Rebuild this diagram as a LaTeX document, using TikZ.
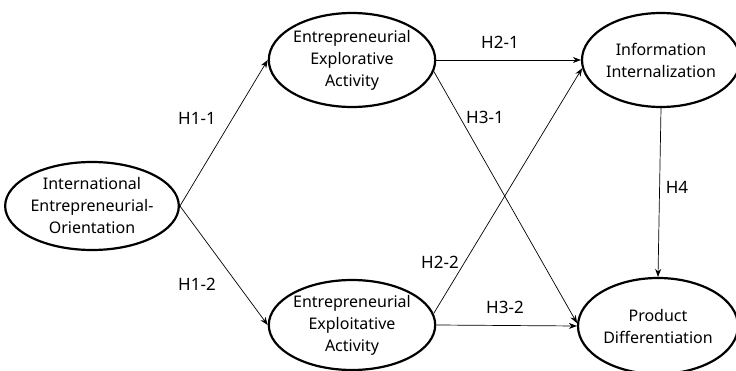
\documentclass[tikz,border=0pt]{standalone}
\usepackage{fontspec}
\setmainfont{Noto Sans}
\usetikzlibrary{shapes.geometric,arrows.meta}
\begin{document}
\begin{tikzpicture}[x=1pt,y=-1pt,
  construct/.style={ellipse,draw,line width=2.2pt,inner sep=0pt,align=center,font=\fontsize{16}{22}\selectfont},
  path/.style={-{Stealth[length=8pt,width=6pt]},line width=0.7pt},
  hlabel/.style={font=\fontsize{17}{20}\selectfont}]
\useasboundingbox (0,0) rectangle (736,371);
\node[construct,minimum width=168pt,minimum height=88pt] (ieo) at (92,206) {International\\Entrepreneurial-\\Orientation};
\node[construct,minimum width=166pt,minimum height=94pt] (explore) at (352,60) {Entrepreneurial\\Explorative\\Activity};
\node[construct,minimum width=166pt,minimum height=90pt] (exploit) at (352,325) {Entrepreneurial\\Exploitative\\Activity};
\node[construct,minimum width=158pt,minimum height=94pt] (info) at (661,60) {Information\\Internalization};
\node[construct,minimum width=160pt,minimum height=96pt] (prod) at (658,326) {Product\\Differentiation};
\draw[path] (ieo.east) -- (explore.west);
\draw[path] (ieo.east) -- (exploit.west);
\draw[path] (explore.east) -- (info.west);
\draw[path] (explore.-8) -- (prod.178);
\draw[path] (exploit.8) -- (info.186);
\draw[path] (exploit.east) -- (prod.west);
\draw[path] (info.south) -- (prod.north);
\node[hlabel] (h11) at (197,118) {H1-1};
\node[hlabel] (h12) at (197,284) {H1-2};
\node[hlabel] (h21) at (500,42) {H2-1};
\node[hlabel] (h31) at (485,117) {H3-1};
\node[hlabel] (h22) at (440,262) {H2-2};
\node[hlabel] (h32) at (505,307) {H3-2};
\node[hlabel] (h4) at (677,187) {H4};
\end{tikzpicture}
\end{document}
